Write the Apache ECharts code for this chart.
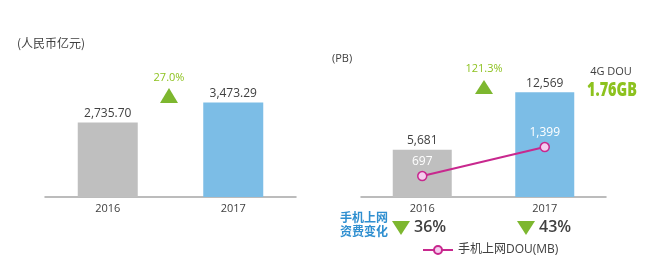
<!DOCTYPE html>
<html><head><meta charset="utf-8">
<script src="https://cdn.jsdelivr.net/npm/echarts@6/dist/echarts.min.js"></script>
<style>html,body{margin:0;padding:0;background:#fff}#c{width:664px;height:270px}</style>
</head><body><div id="c"></div>
<script>
var years = ['2016', '2017'];
var revenue = [2735.70, 3473.29];
var traffic = [5681, 12569];
var dou = [697, 1399];
var revenueLabels = ['2,735.70', '3,473.29'];
var trafficLabels = ['5,681', '12,569'];
var douLabels = ['697', '1,399'];
var revenueGrowth = '27.0%';
var trafficGrowth = '121.3%';
var priceChange = ['36%', '43%'];
var dou4g = '1.76GB';

var FONT = '"Open Sans", "Noto Sans CJK SC", sans-serif';
var chart = echarts.init(document.getElementById('c'));
var barColors = ['#bfbfbf', '#7cbde6'];

function tri(x, y0, y1, w, up) {
  var pts = up ? [[x - w / 2, y1], [x + w / 2, y1], [x, y0]] : [[x - w / 2, y0], [x + w / 2, y0], [x, y1]];
  return { type: 'polygon', shape: { points: pts }, style: { fill: '#7db72f' } };
}

chart.setOption({
  animation: false,
  textStyle: { fontFamily: FONT },
  grid: [
    { left: 45, right: 368, top: 61, bottom: 73 },
    { left: 361, right: 58, top: 72, bottom: 73 }
  ],
  xAxis: [
    { type: 'category', gridIndex: 0, data: years, axisTick: { show: false },
      axisLine: { lineStyle: { color: '#a6a6a6', width: 1.5 } },
      axisLabel: { color: '#404040', fontSize: 11, margin: 6, fontFamily: FONT } },
    { type: 'category', gridIndex: 1, data: years, axisTick: { show: false },
      axisLine: { lineStyle: { color: '#a6a6a6', width: 1.5 } },
      axisLabel: { color: '#404040', fontSize: 11, margin: 6, fontFamily: FONT } }
  ],
  yAxis: [
    { type: 'value', gridIndex: 0, min: 0, max: 5000, show: false, splitLine: { show: false } },
    { type: 'value', gridIndex: 1, min: 0, max: 15000, show: false, splitLine: { show: false } },
    { type: 'value', gridIndex: 1, min: 190, max: 3216, show: false, splitLine: { show: false } }
  ],
  legend: {
    data: [{ name: '手机上网DOU(MB)' }],
    left: 417, top: 239, itemWidth: 30, itemHeight: 10, itemGap: 7,
    textStyle: { color: '#404040', fontSize: 12, fontFamily: FONT }
  },
  series: [
    { type: 'bar', xAxisIndex: 0, yAxisIndex: 0, barWidth: 60,
      data: revenue.map(function (v, i) { return { value: v, itemStyle: { color: barColors[i] } }; }),
      label: { show: true, position: 'top', distance: 3, color: '#404040', fontSize: 12, fontWeight: 500, fontFamily: FONT,
        formatter: function (p) { return revenueLabels[p.dataIndex]; } } },
    { type: 'bar', xAxisIndex: 1, yAxisIndex: 1, barWidth: 59,
      data: traffic.map(function (v, i) { return { value: v, itemStyle: { color: barColors[i] } }; }),
      label: { show: true, position: 'top', distance: 3, color: '#404040', fontSize: 12, fontWeight: 500, fontFamily: FONT,
        formatter: function (p) { return trafficLabels[p.dataIndex]; } } },
    { type: 'line', name: '手机上网DOU(MB)', xAxisIndex: 1, yAxisIndex: 2, data: dou,
      symbol: 'circle', symbolSize: 9,
      lineStyle: { color: '#c8288e', width: 2 },
      itemStyle: { color: '#f5cdef', borderColor: '#c8288e', borderWidth: 1.5 },
      label: { show: true, position: 'top', distance: 3, color: '#ffffff', fontSize: 12, fontFamily: FONT,
        formatter: function (p) { return douLabels[p.dataIndex]; } } }
  ],
  graphic: [
    { type: 'text', left: 17, top: 37, style: { text: '(人民币亿元)', fill: '#404040', font: '12px "Noto Sans CJK SC", sans-serif' } },
    { type: 'text', left: 332, top: 53, style: { text: '(PB)', fill: '#404040', font: '11px "Open Sans", sans-serif' } },
    { type: 'text', x: 169, y: 78, style: { text: revenueGrowth, fill: '#8dc21f', font: '11px "Open Sans", sans-serif', align: 'center', verticalAlign: 'middle' } },
    tri(169, 88, 103, 18, true),
    { type: 'text', x: 484, y: 69, style: { text: trafficGrowth, fill: '#8dc21f', font: '11px "Open Sans", sans-serif', align: 'center', verticalAlign: 'middle' } },
    tri(484, 80, 94, 18, true),
    { type: 'text', x: 611, y: 72, style: { text: '4G DOU', fill: '#404040', font: '11px "Open Sans", sans-serif', align: 'center', verticalAlign: 'middle' } },
    { type: 'text', x: 612, y: 91, scaleX: 0.76, scaleY: 1,
      style: { text: dou4g, fill: '#8dc21f', font: '800 19px "Open Sans", sans-serif', align: 'center', verticalAlign: 'middle' } },
    { type: 'text', x: 364, y: 217, style: { text: '手机上网', fill: '#2f8fd0', font: 'bold 12px "Noto Sans CJK SC", sans-serif', align: 'center', verticalAlign: 'middle' } },
    { type: 'text', x: 364, y: 231, style: { text: '资费变化', fill: '#2f8fd0', font: 'bold 12px "Noto Sans CJK SC", sans-serif', align: 'center', verticalAlign: 'middle' } },
    tri(401, 221, 235, 18, false),
    { type: 'text', x: 414, y: 227, style: { text: priceChange[0], fill: '#404040', font: '600 16px "Open Sans", sans-serif', verticalAlign: 'middle' } },
    tri(526, 221, 235, 18, false),
    { type: 'text', x: 539, y: 227, style: { text: priceChange[1], fill: '#404040', font: '600 16px "Open Sans", sans-serif', verticalAlign: 'middle' } }
  ]
});
</script></body></html>
